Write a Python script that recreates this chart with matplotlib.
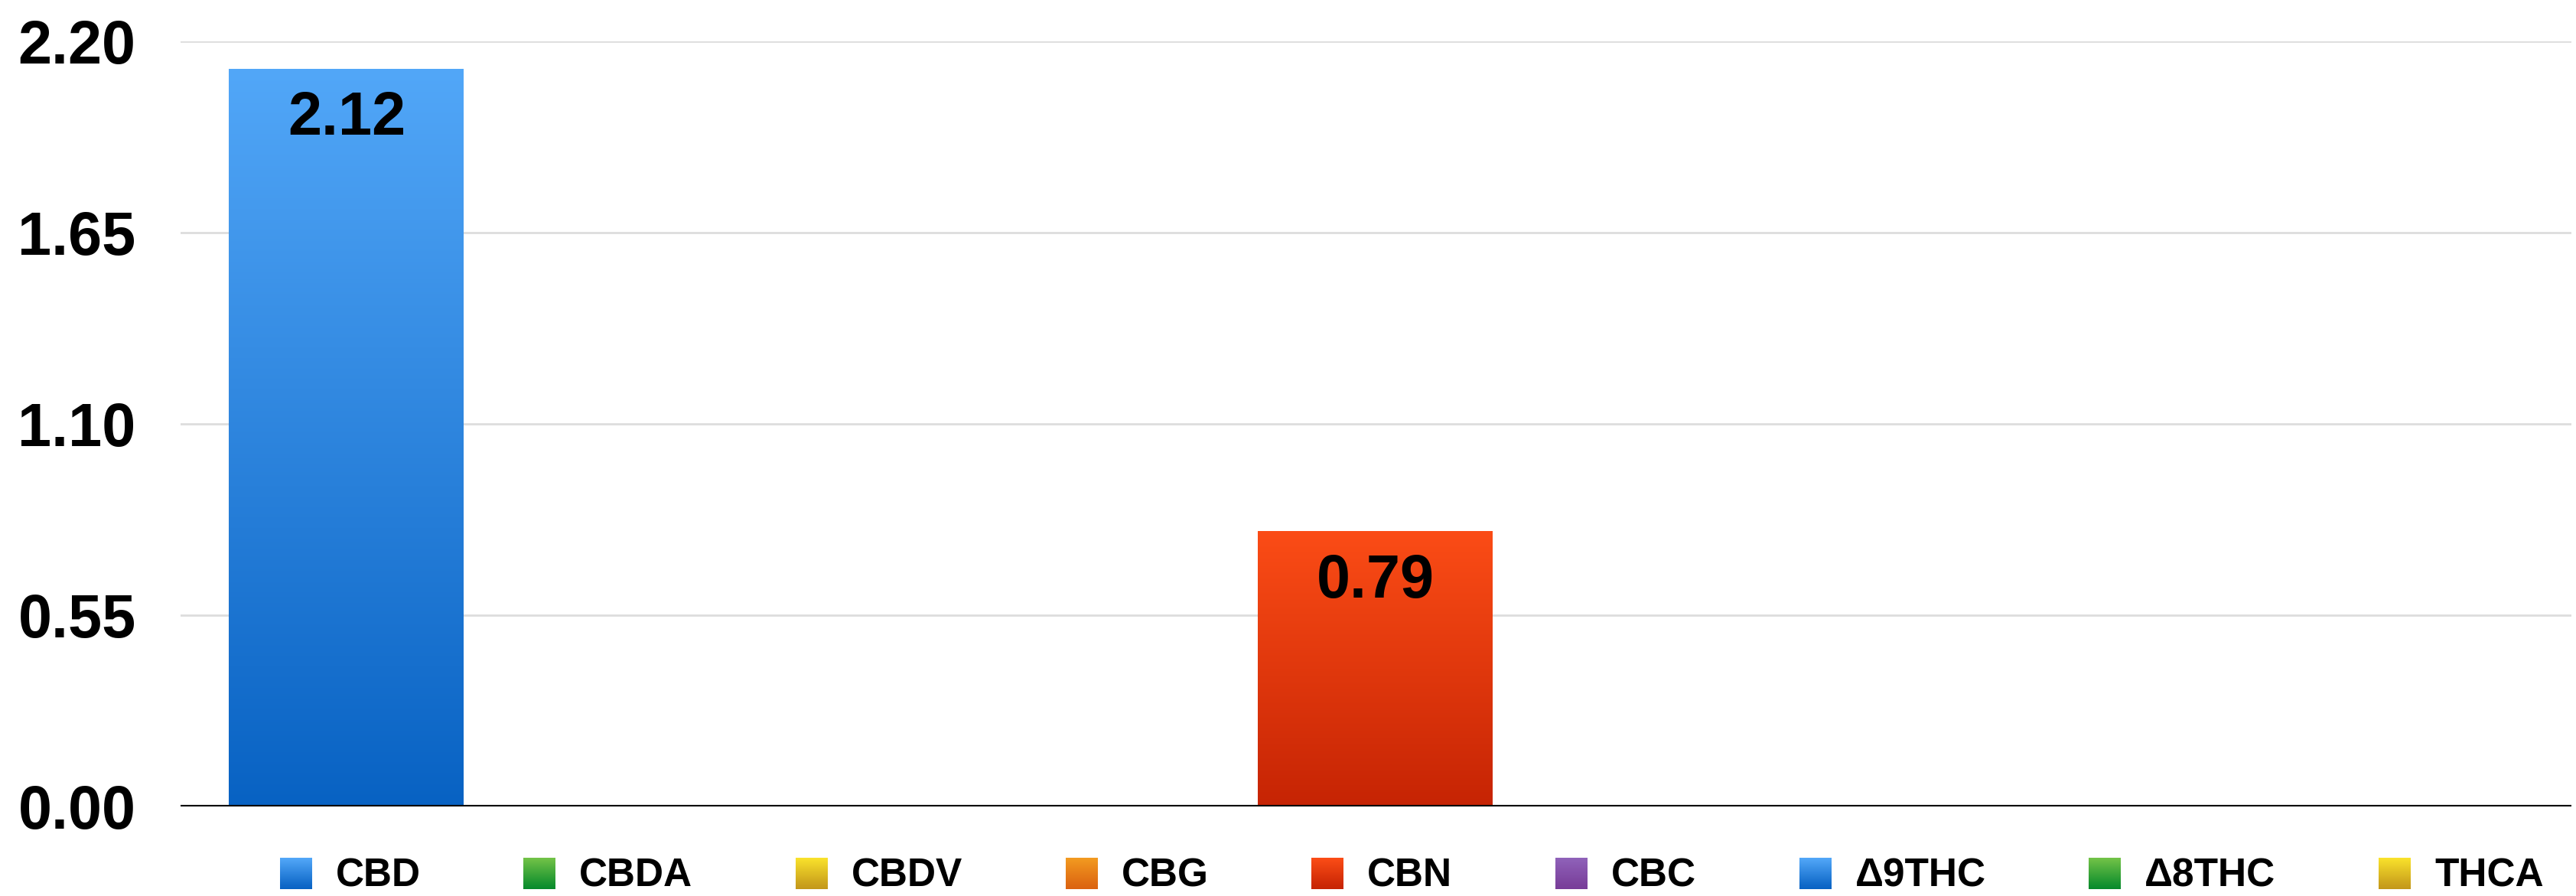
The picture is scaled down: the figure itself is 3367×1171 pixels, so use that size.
import matplotlib
matplotlib.use('Agg')
import matplotlib.pyplot as plt
import numpy as np
from matplotlib.colors import to_rgb
from matplotlib.legend_handler import HandlerBase
from matplotlib.patches import Rectangle

plt.rcParams['font.family'] = ['Liberation Sans', 'DejaVu Sans']
plt.rcParams['font.weight'] = 'bold'

# Data
compounds = ['CBD', 'CBDA', 'CBDV', 'CBG', 'CBN', 'CBC', 'Δ9THC', 'Δ8THC', 'THCA']
values = [2.12, 0, 0, 0, 0.79, 0, 0, 0, 0]
top_colors = ['#52a7f8', '#72c247', '#f9e22b', '#f29a20', '#fb4c16', '#8f62b9', '#52a7f8', '#72c247', '#f9e22b']
bottom_colors = ['#0862c3', '#078a2b', '#c3971a', '#db6210', '#c62404', '#783c98', '#0862c3', '#078a2b', '#c3971a']
y_ticks = [0.00, 0.55, 1.10, 1.65, 2.20]


def gradient(top, bottom, n=256):
    t = np.linspace(0, 1, n)[:, None]
    top, bottom = np.array(to_rgb(top)), np.array(to_rgb(bottom))
    return (top * (1 - t) + bottom * t)[:, None, :]   # row 0 = top


class GradientHandler(HandlerBase):
    def __init__(self, top, bottom, steps=40):
        super().__init__()
        self.top, self.bottom, self.steps = to_rgb(top), to_rgb(bottom), steps

    def create_artists(self, legend, orig_handle, xdescent, ydescent, width, height, fontsize, trans):
        artists = []
        dh = height / self.steps
        for k in range(self.steps):
            f = k / (self.steps - 1)
            c = [b * (1 - f) + t * f for t, b in zip(self.top, self.bottom)]
            artists.append(Rectangle((-xdescent, -ydescent + k * dh), width, dh * 1.05,
                                     facecolor=c, edgecolor='none', transform=trans))
        return artists


fig = plt.figure(figsize=(33.67, 11.71), dpi=100)
ax = fig.add_axes([0.0701, 0.0999, 0.9281, 0.854])

x = np.arange(len(compounds))
bars = ax.bar(x, values, width=0.913, color='none', edgecolor='none', zorder=3)

# gradient fill for each bar
for patch, top, bottom in zip(bars.patches, top_colors, bottom_colors):
    if patch.get_height() <= 0:
        continue
    x0, y0 = patch.get_xy()
    ax.imshow(gradient(top, bottom), extent=[x0, x0 + patch.get_width(), y0, y0 + patch.get_height()],
              aspect='auto', zorder=3, interpolation='bilinear')

# value labels
for xi, v in zip(x, values):
    if v > 0:
        ax.annotate('{:.2f}'.format(v), (xi, v), xytext=(0, -20), textcoords='offset points',
                    ha='center', va='top', fontsize=57, fontweight='bold', color='black', zorder=4)

ax.set_xlim(-0.645, 8.65)
ax.set_ylim(0, 2.2)
ax.set_yticks(y_ticks)
ax.set_yticklabels(['{:.2f}'.format(t) for t in y_ticks])
ax.set_xticks([])
ax.tick_params(axis='y', length=0, pad=42, labelsize=57)
for lab in ax.get_yticklabels():
    lab.set_fontweight('bold')

ax.grid(axis='y', color='#dddddd', linewidth=2, zorder=0)
ax.set_axisbelow(True)
for side in ['top', 'right', 'left', 'bottom']:
    ax.spines[side].set_visible(False)
ax.axhline(0, color='black', linewidth=3, zorder=5)

handler_map = {p: GradientHandler(t, b) for p, t, b in zip(bars.patches, top_colors, bottom_colors)}
fig.legend(bars.patches, compounds, handler_map=handler_map, loc='center',
           bbox_to_anchor=(0.548, 0.022), ncol=len(compounds), frameon=False,
           prop={'size': 37, 'weight': 'bold'}, handlelength=0.82, handleheight=0.85,
           handletextpad=0.6, columnspacing=2.62, borderpad=0, borderaxespad=0)

fig.savefig('out.png', dpi=100)
